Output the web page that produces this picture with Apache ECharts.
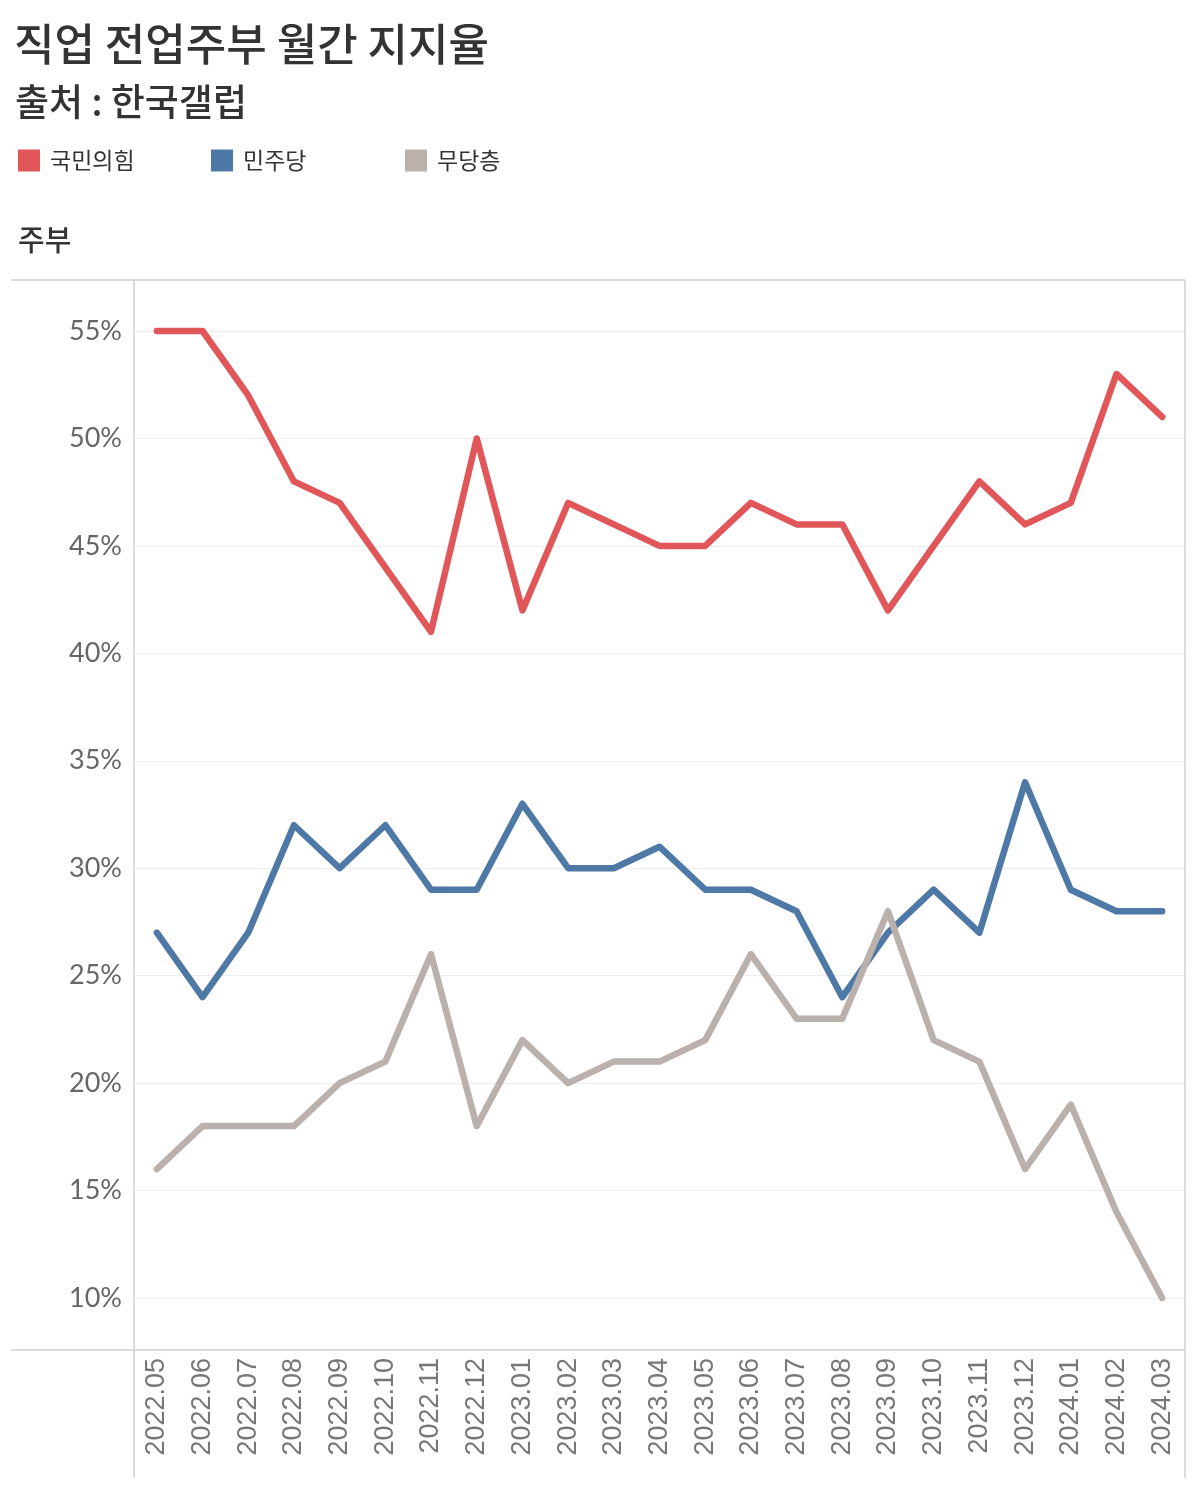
<!DOCTYPE html>
<html><head><meta charset="utf-8">
<script src="https://cdn.jsdelivr.net/npm/echarts@6/dist/echarts.min.js"></script>
<style>html,body{margin:0;padding:0;background:#fff}#c{width:1200px;height:1495px}</style>
</head><body><div id="c"></div>
<script>
const months = ['2022.05','2022.06','2022.07','2022.08','2022.09','2022.10','2022.11','2022.12','2023.01','2023.02','2023.03','2023.04','2023.05','2023.06','2023.07','2023.08','2023.09','2023.10','2023.11','2023.12','2024.01','2024.02','2024.03'];
const ppp = [55,55,52,48,47,44,41,50,42,47,46,45,45,47,46,46,42,45,48,46,47,53,51];
const dpk = [27,24,27,32,30,32,29,29,33,30,30,31,29,29,28,24,27,29,27,34,29,28,28];
const none = [16,18,18,18,20,21,26,18,22,20,21,21,22,26,23,23,28,22,21,16,19,14,10];
const seriesNames = ['국민의힘','민주당','무당층'];
const colors = ['#e15759','#4e79a7','#bab0ac'];

const chart = echarts.init(document.getElementById('c'));
const frame = '#d0d0d0';
const KR = '"Noto Sans CJK KR","Noto Sans",sans-serif';
function line(x1,y1,x2,y2){return {type:'line',shape:{x1,y1,x2,y2},style:{stroke:frame,lineWidth:1.5},silent:true,z:0};}
const mk = (name, data, color) => ({
  name, type:'line', data, showSymbol:false, symbol:'none', clip:false,
  lineStyle:{color, width:6.5, cap:'round', join:'round'}, itemStyle:{color}, z:3
});
const legendLefts = [18, 211, 405];
chart.setOption({
  animation:false,
  title:[
    {text:'직업 전업주부 월간 지지율', left:9, top:17, textStyle:{fontFamily:KR, fontSize:44, fontWeight:500, color:'#333'}},
    {text:'출처 : 한국갤럽', left:10, top:78, textStyle:{fontFamily:KR, fontSize:37, fontWeight:500, color:'#333'}},
    {text:'주부', left:13, top:220, textStyle:{fontFamily:KR, fontSize:29, fontWeight:500, color:'#333'}}
  ],
  legend: seriesNames.map((n,i)=>({
    left:legendLefts[i], top:149, padding:0, icon:'rect', itemWidth:22, itemHeight:22, itemGap:10,
    textStyle:{fontFamily:KR, fontSize:23, color:'#333', padding:[0,0,0,5]},
    data:[n]
  })),
  grid:{left:134, right:15, top:331, bottom:197},
  xAxis:{
    type:'category', data:months, boundaryGap:true,
    axisLine:{show:false}, axisTick:{show:false},
    axisLabel:{rotate:90, margin:60, fontFamily:'"Liberation Sans",Arial,sans-serif', fontSize:27, color:'#777', interval:0}
  },
  yAxis:{
    type:'value', min:10, max:55, interval:5,
    axisLine:{show:false}, axisTick:{show:false},
    axisLabel:{formatter:'{value}%', margin:12, fontFamily:'Lato,"Open Sans",sans-serif', fontSize:27, color:'#666'},
    splitLine:{lineStyle:{color:'#efefef', width:1.2}}
  },
  graphic:[
    line(11,280,1185,280),
    line(11,1350,1185,1350),
    line(134,280,134,1478),
    line(1185,280,1185,1478)
  ],
  series:[
    mk(seriesNames[0], ppp, colors[0]),
    mk(seriesNames[1], dpk, colors[1]),
    mk(seriesNames[2], none, colors[2])
  ]
});
</script></body></html>
